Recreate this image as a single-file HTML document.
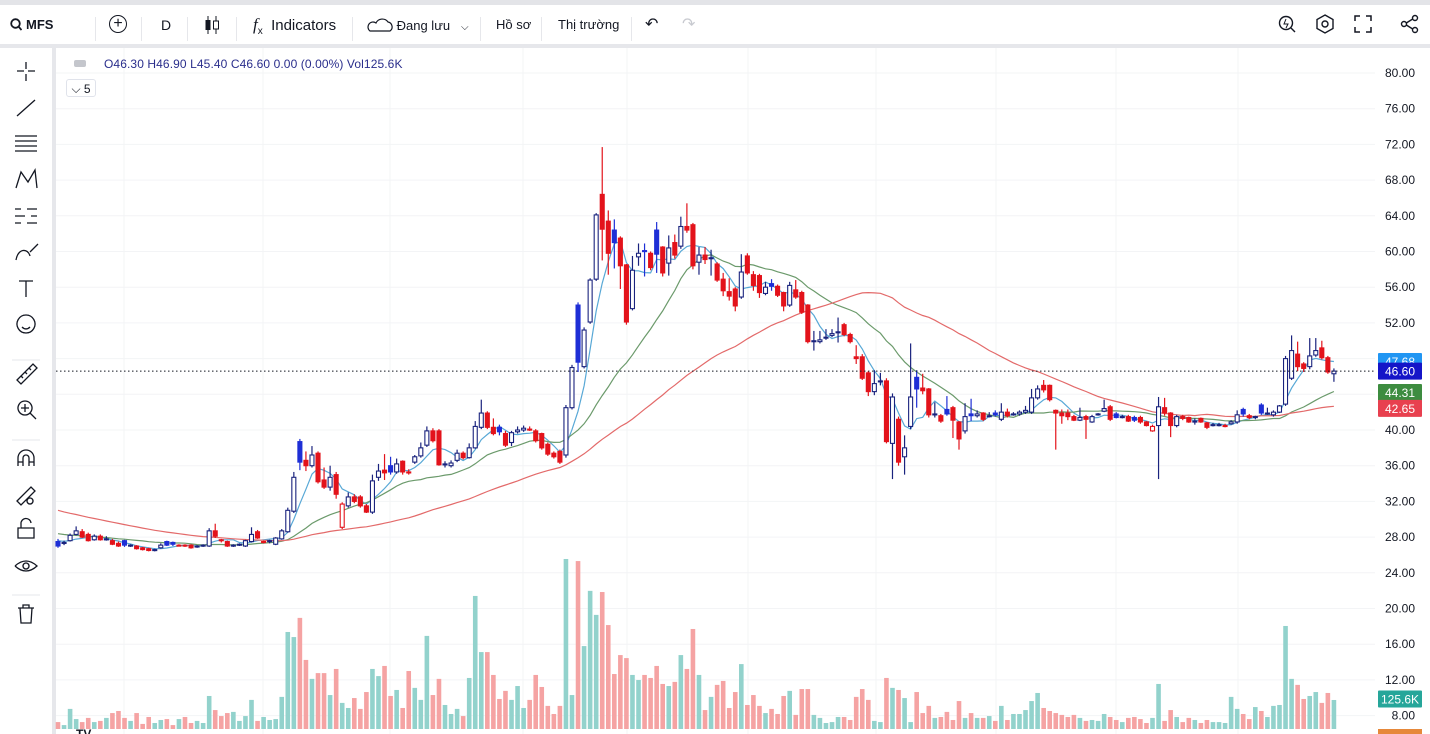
<!DOCTYPE html>
<html><head><meta charset="utf-8">
<style>
html,body{margin:0;padding:0;width:1430px;height:734px;overflow:hidden;background:#fff;font-family:"Liberation Sans","Noto Sans CJK SC",sans-serif;}
#top{position:absolute;left:0;top:0;width:1430px;height:5px;background:#e3e4e8;}
#tb{position:absolute;left:0;top:5px;width:1430px;height:39px;background:#fff;}
#tbsep{position:absolute;left:0;top:44px;width:1430px;height:4px;background:#e6e7eb;}
#lsep{position:absolute;left:52px;top:48px;width:4px;height:686px;background:#e6e7eb;}
.ti{position:absolute;top:12px;font-size:14px;color:#131722;white-space:nowrap;}
.vs{position:absolute;top:12px;width:1px;height:24px;background:#e6e7eb;}
#legend{position:absolute;left:104px;top:57px;font-size:12px;color:#2a2e8c;letter-spacing:0.1px;}
#svg{position:absolute;left:0;top:0;}
</style></head><body>
<div id="top"></div>
<div id="tb">
  <div class="ti" style="left:10px;font-size:13px;font-weight:bold;top:12px"><svg width="12" height="13" style="vertical-align:-2px;margin-right:4px"><circle cx="5.5" cy="5.5" r="4.3" fill="none" stroke="#131722" stroke-width="1.8"/><line x1="8.5" y1="8.5" x2="11.5" y2="12" stroke="#131722" stroke-width="1.8"/></svg>MFS</div>
  <div class="vs" style="left:95px"></div>
  <div class="ti" style="left:109px;top:10px;width:16px;height:16px;border:1.5px solid #131722;border-radius:50%;text-align:center;line-height:16px;font-size:16px">+</div>
  <div class="vs" style="left:141px"></div>
  <div class="ti" style="left:161px">D</div>
  <div class="vs" style="left:187px"></div>
  <div class="ti" style="left:204px;top:10px"><svg width="16" height="20"><line x1="4" y1="1" x2="4" y2="19" stroke="#131722"/><rect x="1.5" y="5" width="5" height="10" fill="#131722"/><line x1="12" y1="1" x2="12" y2="19" stroke="#131722"/><rect x="9.5" y="6" width="5" height="8" fill="#fff" stroke="#131722"/></svg></div>
  <div class="vs" style="left:236px"></div>
  <div class="ti" style="left:253px;font-size:15px;top:10px"><i style="font-family:'Liberation Serif',serif;font-size:17px">f</i><sub style="font-size:10px">x</sub>&nbsp; Indicators</div>
  <div class="vs" style="left:352px"></div>
  <div class="ti" style="left:367px;font-size:13px;top:12px"><svg width="26" height="16" style="vertical-align:-3px"><path d="M3 14 H23 A5 5 0 0 0 21 5 A7 7 0 0 0 9 6 A5 5 0 0 0 3 14Z" fill="none" stroke="#131722" stroke-width="1.2"/></svg> Đang lưu &nbsp;&nbsp;<span style="font-size:10px">&#x2335;</span></div>
  <div class="vs" style="left:480px"></div>
  <div class="ti" style="left:496px;font-size:13px">Hồ sơ</div>
  <div class="vs" style="left:541px"></div>
  <div class="ti" style="left:558px;font-size:13px">Thị trường</div>
  <div class="vs" style="left:631px"></div>
  <div class="ti" style="left:645px;font-size:16px;top:9px">&#x21B6;</div>
  <div class="ti" style="left:682px;font-size:16px;top:9px;color:#c8cad0">&#x21B7;</div>
  <div class="ti" style="left:1277px;top:9px"><svg width="20" height="20"><circle cx="9" cy="9" r="6.5" fill="none" stroke="#131722" stroke-width="1.4"/><path d="M9 5 L7 10 H11 L9 14" fill="none" stroke="#131722"/><line x1="14" y1="14" x2="18" y2="18" stroke="#131722" stroke-width="1.4"/></svg></div>
  <div class="ti" style="left:1315px;top:9px"><svg width="20" height="20"><polygon points="10,1 18,5.5 18,14.5 10,19 2,14.5 2,5.5" fill="none" stroke="#131722" stroke-width="1.4"/><circle cx="10" cy="10" r="3" fill="none" stroke="#131722" stroke-width="1.4"/></svg></div>
  <div class="ti" style="left:1353px;top:9px"><svg width="20" height="20" fill="none" stroke="#131722" stroke-width="1.5"><path d="M2 7V2H7M13 2H18V7M18 13V18H13M7 18H2V13"/></svg></div>
  <div class="ti" style="left:1400px;top:9px"><svg width="20" height="20" fill="none" stroke="#131722" stroke-width="1.4"><circle cx="15" cy="4" r="2.5"/><circle cx="4" cy="10" r="2.5"/><circle cx="15" cy="16" r="2.5"/><path d="M6.3 9 L12.7 5 M6.3 11 L12.7 15"/></svg></div>
</div>
<div id="tbsep"></div>
<div id="lsep"></div>
<svg id="svg" width="1430" height="734"></svg>
<div id="legend">O46.30 H46.90 L45.40 C46.60 0.00 (0.00%) Vol125.6K</div>
<div style="position:absolute;left:66px;top:79px;width:30px;height:18px;border:1px solid #e0e3eb;border-radius:3px;font-size:12px;color:#131722;line-height:18px;text-align:center;box-sizing:border-box">&#x2335; 5</div>
<div style="position:absolute;left:74px;top:60px;width:12px;height:7px;background:#c4c6cc;border-radius:2px"></div>
<script>
const history = [36.5,36.0,35.6,35.8,35.2,34.9,34.5,34.8,34.2,33.9,33.5,33.8,33.2,32.9,32.6,32.8,32.3,32.0,31.8,31.5,31.7,31.2,30.9,30.6,30.8,30.3,30.0,29.8,29.9,29.5,29.3,29.6,29.2,29.0,28.8,29.1,28.7,28.5,28.6,28.3,28.1,28.4,28.0,27.9,28.2,27.8,27.7,27.9,27.6];
const ohlc = [
[27.5,27.8,26.8,27.0],[27.3,27.6,27.1,27.4],[27.6,28.4,27.5,28.2],[28.3,29.2,28.2,28.7],[28.6,28.9,27.9,28.0],[28.3,28.5,27.5,27.6],[27.7,28.3,27.6,28.1],[28.1,28.3,27.6,27.7],[27.8,28.1,27.6,27.8],[27.6,27.8,27.1,27.2],
[27.3,27.5,26.9,27.0],[27.6,27.7,26.9,27.1],[27.1,27.2,26.9,27.1],[27.0,27.1,26.6,26.7],[26.8,26.9,26.5,26.6],[26.7,26.8,26.4,26.5],[26.6,26.7,26.4,26.6],[26.8,27.3,26.7,27.1],[27.5,27.6,27.0,27.1],[27.4,27.5,27.0,27.2],
[27.1,27.2,27.0,27.1],[27.1,27.2,26.9,27.0],[27.1,27.2,26.7,26.8],[26.9,27.1,26.8,27.0],[27.0,27.2,26.9,27.1],[27.0,29.0,26.9,28.7],[28.7,29.5,27.9,28.1],[27.7,27.8,27.4,27.6],[27.5,27.6,26.9,27.0],[27.1,27.2,26.9,27.1],
[27.1,27.3,27.0,27.2],[27.0,27.7,26.9,27.6],[27.5,29.1,27.4,28.3],[28.6,28.8,27.8,27.9],[27.5,27.6,27.3,27.5],[27.5,27.7,27.3,27.6],[27.2,28.0,27.1,27.9],[27.8,28.9,27.7,28.7],[28.6,31.3,28.5,31.0],[30.9,35.3,30.7,34.7],
[38.7,39.0,35.5,36.4],[36.6,37.6,35.4,36.0],[36.0,38.2,35.8,37.2],[37.4,37.6,34.0,34.2],[34.4,35.8,33.4,33.6],[33.6,36.0,33.2,34.7],[35.0,35.3,32.3,32.8],[29.1,31.9,28.9,31.7],[31.5,33.0,31.3,32.5],[32.5,32.8,31.8,32.0],
[32.5,32.7,31.3,31.5],[31.5,31.7,30.7,30.8],[30.8,35.0,30.6,34.3],[34.7,36.2,34.3,35.4],[35.5,37.3,34.4,35.2],[36.0,37.0,35.0,35.3],[35.3,36.8,35.1,36.2],[36.5,36.6,35.0,35.3],[35.3,35.6,35.0,35.2],[36.4,37.2,36.2,37.0],
[37.1,38.6,36.9,38.0],[38.3,40.4,38.1,39.9],[39.9,40.2,38.6,38.8],[39.9,40.1,36.0,36.1],[36.2,36.5,35.8,36.2],[36.0,36.6,35.8,36.3],[36.6,37.8,36.4,37.4],[37.4,37.6,36.7,36.9],[36.9,38.5,36.8,38.0],[38.0,41.0,37.9,40.4],
[40.3,43.4,40.1,41.9],[41.9,42.1,40.1,40.3],[40.3,41.3,39.4,39.6],[40.3,40.6,39.4,39.8],[39.6,39.9,38.1,38.3],[38.6,39.9,38.2,39.7],[39.8,40.4,39.6,40.0],[40.0,40.5,39.8,40.2],[40.1,40.4,39.9,40.0],[39.9,40.1,38.6,38.8],
[39.6,39.7,37.8,38.0],[38.4,38.6,37.1,37.3],[37.4,37.6,36.8,37.0],[37.6,37.8,36.2,36.4],[37.2,42.8,36.9,42.5],[42.5,47.3,42.3,47.0],[54.0,54.3,46.5,47.6],[47.1,51.5,46.9,51.2],[52.1,57.0,51.9,56.8],[56.9,64.3,56.7,64.1],
[66.4,71.7,59.0,62.5],[63.4,64.6,57.4,59.8],[62.4,63.6,58.1,61.0],[61.5,61.7,55.8,58.4],[58.5,58.6,51.8,52.1],[53.6,59.5,53.4,57.9],[59.4,60.9,58.4,59.8],[60.1,60.9,57.2,60.0],[59.8,60.0,57.9,58.2],[62.4,63.3,57.6,59.7],
[60.5,60.6,57.2,57.6],[58.7,61.8,57.3,60.4],[61.0,61.9,59.2,59.6],[60.6,63.9,60.3,62.8],[62.8,65.4,62.1,62.4],[63.0,63.2,58.0,58.4],[58.8,60.5,57.4,59.6],[59.6,60.5,58.6,59.1],[59.3,60.2,57.3,59.3],[58.6,58.8,56.6,56.8],
[56.9,57.6,55.0,55.6],[55.5,57.0,54.5,55.0],[55.8,56.0,53.3,53.9],[54.9,59.7,54.7,57.7],[59.5,59.8,57.4,57.6],[57.4,57.8,55.6,56.2],[57.3,57.5,54.8,55.4],[55.3,56.6,55.1,56.0],[56.4,56.9,55.6,56.1],[56.1,56.3,54.9,55.1],
[55.4,55.5,53.3,53.9],[54.0,56.6,53.8,56.2],[55.7,56.8,54.7,54.9],[55.4,55.6,53.0,53.2],[54.0,54.1,49.7,49.9],[50.0,51.1,48.9,50.0],[49.9,51.1,49.7,50.1],[50.4,51.3,50.1,50.4],[50.6,51.3,50.4,50.8],[51.0,52.6,49.8,51.0],
[51.8,52.0,50.5,50.7],[50.7,50.9,49.7,49.9],[48.2,49.5,47.4,48.0],[48.2,48.5,45.6,45.8],[46.4,46.6,43.8,44.3],[44.3,46.7,43.9,45.2],[45.5,46.4,45.0,45.5],[45.5,45.8,38.5,38.7],[38.5,44.1,34.5,43.7],[41.2,41.5,36.0,36.4],
[37.0,39.4,35.0,38.0],[40.4,49.7,40.1,43.7],[45.9,46.7,42.5,44.6],[44.7,46.3,44.0,44.4],[44.6,44.7,41.4,41.7],[41.8,43.1,41.4,41.8],[41.6,41.8,40.8,41.0],[42.3,43.8,41.6,41.8],[42.5,42.7,39.1,41.1],[40.9,41.0,37.8,39.0],
[39.9,43.0,39.6,41.5],[41.8,43.5,41.0,41.6],[41.6,42.2,41.4,41.8],[41.9,42.0,41.0,41.2],[41.6,42.0,41.4,41.6],[41.9,42.2,41.5,41.7],[41.2,43.0,41.0,42.0],[42.0,42.4,41.4,41.6],[41.8,42.0,41.6,41.8],[41.8,42.2,41.6,42.0],
[42.0,42.7,41.8,42.2],[42.0,44.6,41.8,43.6],[43.6,45.0,43.4,44.6],[45.0,45.6,44.2,44.5],[45.0,45.1,43.2,43.4],[42.2,42.3,37.8,41.9],[41.9,42.3,40.7,41.6],[41.9,42.3,41.1,41.5],[41.5,41.7,41.0,41.1],[41.1,42.5,41.0,41.4],
[41.5,41.7,39.0,41.2],[40.9,41.7,40.8,41.5],[41.7,41.9,41.6,41.8],[42.1,43.4,42.0,42.4],[42.6,42.8,41.0,41.2],[41.8,42.0,41.3,41.4],[41.5,41.7,41.3,41.5],[41.5,41.7,40.9,41.0],[41.4,41.6,40.9,41.1],[41.4,41.6,40.7,40.9],
[40.9,41.0,40.4,40.5],[39.9,40.6,39.8,40.4],[40.5,43.7,34.5,42.6],[42.5,43.6,41.6,41.9],[41.9,42.0,39.2,40.5],[40.5,41.7,40.3,41.5],[41.5,41.7,41.1,41.3],[41.4,41.5,40.8,40.9],[41.0,41.3,40.6,41.0],[41.3,41.4,40.8,40.9],
[40.8,40.9,40.1,40.3],[40.6,40.8,40.4,40.6],[40.6,40.8,40.4,40.6],[40.5,40.7,40.3,40.5],[40.7,41.1,40.6,40.9],[40.9,42.2,40.7,41.7],[42.3,42.5,41.5,41.8],[41.6,41.8,41.2,41.4],[41.5,41.6,41.2,41.5],[42.8,43.0,41.7,41.9],
[41.9,42.5,41.7,41.9],[41.7,42.2,41.5,42.0],[42.0,42.8,41.9,42.7],[42.9,48.3,42.7,48.0],[45.8,50.6,45.6,48.9],[48.5,49.9,46.6,47.1],[47.4,47.6,46.5,46.9],[47.1,50.3,46.8,48.3],[48.4,50.3,48.2,48.9],[49.2,50.0,47.9,48.1],
[48.1,48.3,46.3,46.5],[46.3,46.9,45.4,46.6]];
const volumes = [30,17,87,43,30,48,30,35,48,69,78,48,35,69,22,52,26,39,43,17,43,52,26,35,26,143,82,56,69,74,35,56,126,35,52,39,43,139,420,398,481,299,217,242,242,147,260,113,91,134,87,160,260,229,273,143,169,91,251,178,126,403,147,217,104,65,87,56,221,576,333,333,234,130,165,126,186,91,126,234,182,100,65,100,736,147,727,359,598,494,593,450,238,320,307,234,212,234,221,273,195,186,204,320,260,433,
234,82,139,191,208,91,160,281,104,147,100,69,87,65,143,165,61,173,173,61,48,26,30,52,52,39,139,173,126,35,30,221,178,169,134,30,160,69,100,48,52,74,39,121,48,69,48,48,56,35,100,39,65,65,82,121,156,91,78,69,61,52,61,48,35,39,35,65,52,39,30,48,52,43,26,48,195,35,82,52,30,48,39,26,39,30,30,26,139,87,65,43,95,78,52,100,104,446,217,191,130,143,160,113,156,125.6];
const priceTicks = [80,76,72,68,64,60,56,52,48,44,40,36,32,28,24,20,16,12,8];
const maPeriods = [5,20,50];
const gridX = [124,263,390,523,627,748,876,996,1116,1238];

const NS='http://www.w3.org/2000/svg';
const svg=document.getElementById('svg');
function mk(tag,attrs,parent){const e=document.createElementNS(NS,tag);for(const k in attrs)e.setAttribute(k,attrs[k]);(parent||svg).appendChild(e);return e;}
const X0=58, STEP=6.047;
const xS=i=>X0+i*STEP;
const yS=p=>430-(p-40)*8.925;
const vS=v=>729-v*0.231;

const grid=mk('g',{});


priceTicks.forEach(t=>{mk('line',{x1:56,x2:1375,y1:yS(t),y2:yS(t),stroke:'#f3f4f6','stroke-width':1},grid);});
gridX.forEach(x=>{mk('line',{x1:x,x2:x,y1:48,y2:734,stroke:'#f3f4f6','stroke-width':1},grid);});

const vg=mk('g',{});


volumes.forEach((v,i)=>{
  const up=ohlc[i][3]>=ohlc[i][0];
  const r=mk('rect',{x:xS(i)-2.3,y:vS(v),width:4.6,height:729-vS(v),fill:up?'#92d2cc':'#f5a3a3'},vg);
  
  
});

const closes=history.concat(ohlc.map(d=>d[3]));
const H=history.length;
const maColors=['#58a8d6','#6b9a6b','#e36a6a'];
maPeriods.forEach((p,k)=>{
  let pts=[];
  for(let i=0;i<ohlc.length;i++){
    const j=i+H; if(j-p+1<0) continue;
    let s=0; for(let q=j-p+1;q<=j;q++) s+=closes[q];
    pts.push(xS(i).toFixed(1)+','+yS(s/p).toFixed(1));
  }
  const pl=mk('polyline',{points:pts.join(' '),fill:'none',stroke:maColors[k],'stroke-width':1.2});
  
  
});

const cg=mk('g',{});


ohlc.forEach((d,i)=>{
  const [o,h,l,c]=d;
  const prev=i>0?ohlc[i-1][3]:c;
  const col=c>=prev?(c>=o?'#1a237e':'#1e2fd6'):'#e3131b';
  const filled=c<o;
  const x=xS(i);
  const g=mk('g',{},cg);
  
  
  mk('line',{x1:x,x2:x,y1:yS(h),y2:yS(l),stroke:col,'stroke-width':1.2},g);
  const top=yS(Math.max(o,c)), bot=yS(Math.min(o,c));
  mk('rect',{x:x-2,y:top,width:4,height:Math.max(1,bot-top),fill:filled?col:'#fff',stroke:col,'stroke-width':1.1},g);
});

const last=ohlc[ohlc.length-1][3];
const pl=mk('line',{x1:56,x2:1375,y1:yS(last),y2:yS(last),stroke:'#131722','stroke-width':1,'stroke-dasharray':'1.5,2.5'});



const ax=mk('g',{});


priceTicks.forEach(t=>{
  const tx=mk('text',{x:1415,y:yS(t)+4,'text-anchor':'end','font-size':12,fill:'#131722','font-family':'Liberation Sans, sans-serif'},ax);
  tx.textContent=t.toFixed(2);
  
  
});
function tag(y,txt,bg,name){
  const g=mk('g',{});
  
  
  mk('rect',{x:1378,y:y-8.5,width:44,height:17,fill:bg,rx:1},g);
  const t=mk('text',{x:1400,y:y+4.5,'text-anchor':'middle','font-size':12,fill:'#fff','font-family':'Liberation Sans, sans-serif'},g);
  t.textContent=txt;
}
function maLast(p){let s=0;for(let q=closes.length-p;q<closes.length;q++)s+=closes[q];return s/p;}
tag(yS(maLast(5)),maLast(5).toFixed(2),'#2196f3','ma5-value-tag');
tag(yS(last),last.toFixed(2),'#1515c8','last-price-tag');
tag(yS(maLast(20))+1,maLast(20).toFixed(2),'#3d8c40','ma20-value-tag');
tag(yS(maLast(50))+2,maLast(50).toFixed(2),'#e8404f','ma50-value-tag');
tag(vS(volumes[volumes.length-1])-1,'125.6K','#26a69a','volume-value-tag');
const ob=mk('rect',{x:1378,y:729,width:44,height:8,fill:'#e6883a'});


const ev=mk('text',{x:76,y:738,'font-size':12,'font-weight':'bold',fill:'#131722'});
ev.textContent='TV';



const icons=[
 ['crosshair-tool','M26 62v7M26 74v7M17 71h7M28 71h7'],
 ['trend-line-tool','M17 116 L35 100'],
 ['fib-tool','M15 136h22M15 141h22M15 146h22M15 151h22'],
 ['pattern-tool','M16 188 L21 172 L28 182 L35 170 L37 188'],
 ['prediction-tool','M15 209h6M27 209h10M15 216h10M31 216h6M15 223h6M27 223h10'],
 ['brush-tool','M16 260 C18 248 28 248 30 256 M30 252 L38 244'],
 ['text-tool','M19 281h14M26 281v16'],
 ['emoji-tool','M26 315 a9 9 0 1 0 0.01 0 M22 327 q4 4 8 0'],
 ['measure-tool','M17 380 L33 364 L37 368 L21 384Z M21 376l2 2M25 372l2 2M29 368l2 2'],
 ['zoom-tool','M25 401 a7 7 0 1 0 0.01 0 M30 413 L36 419 M21 408h8M25 404v8'],
 ['magnet-tool','M18 466v-8a8 8 0 0 1 16 0v8M18 462h5M29 462h5M23 466v-8a3 3 0 0 1 6 0v8'],
 ['lock-drawing-tool','M17 501 L31 487 L35 491 L21 505Z M30 498 a3 3 0 1 0 .01 0'],
 ['lock-tool','M18 528h16v10h-16Z M21 528v-4a5 5 0 0 1 10 -1'],
 ['hide-tool','M15 566 q11 -10 22 0 q-11 10 -22 0 M26 563 a3 3 0 1 0 .01 0'],
 ['delete-tool','M18 608h16M23 608v-3h6v3M20 608l1 15h10l1-15']
];
icons.forEach(ic=>{
  const p=mk('path',{d:ic[1],fill:'none',stroke:'#131722','stroke-width':1.3});
  
  
});
[360,440,595].forEach(y=>{mk('line',{x1:12,x2:40,y1:y,y2:y,stroke:'#e6e7eb'});});
</script>
</body></html>
